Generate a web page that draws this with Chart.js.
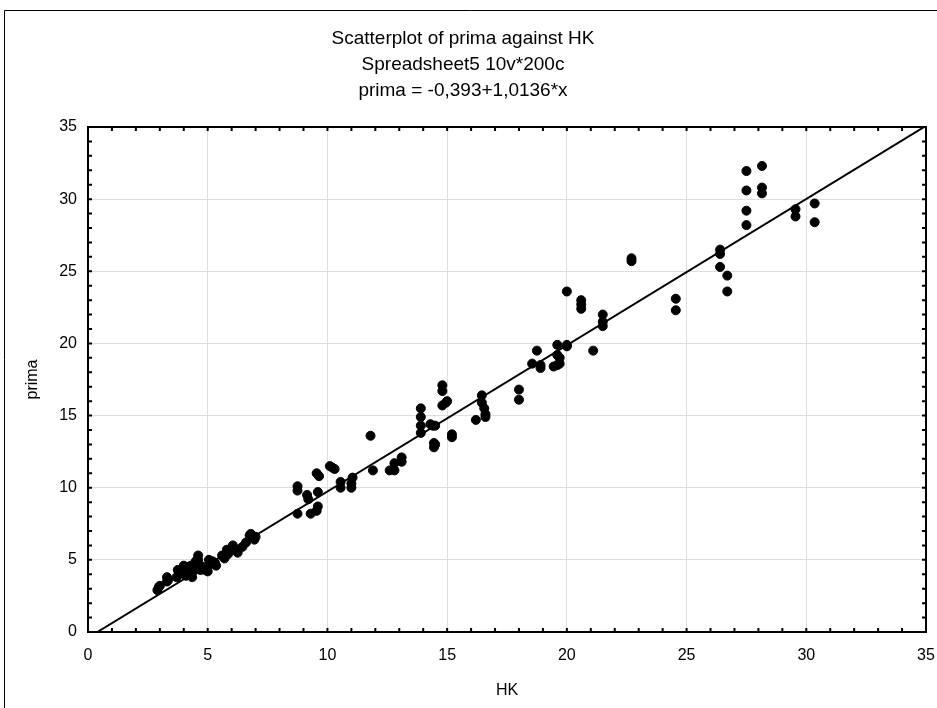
<!DOCTYPE html>
<html>
<head>
<meta charset="utf-8">
<script src="https://cdn.jsdelivr.net/npm/chart.js@4"></script>
<style>
  body { margin: 0; background: #fff; }
  #wrap { position: relative; width: 937px; height: 708px; }
</style>
</head>
<body>
<div id="wrap"><canvas id="chart" width="937" height="708"></canvas></div>
<script>
// HK (x) and prima (y)
const hk = [
  2.9, 2.95, 3.0, 3.3, 3.3, 3.35, 3.75, 3.8, 3.7, 4.1, 4.1, 4.2, 4.3, 4.35, 4.4, 4.5, 4.6, 4.6, 4.7, 4.8,
  4.9, 5.0, 5.05, 5.1, 5.35, 5.3, 5.7, 5.8, 5.85, 6.05, 6.25, 6.1, 6.45, 6.6, 6.75, 6.8, 6.95, 7.0, 4.0, 4.5,
  3.9, 4.7, 5.2, 5.6,
  8.75, 8.75, 8.75, 9.15, 9.2, 9.3, 9.55, 9.65, 9.6, 9.6, 9.55, 10.1, 10.3, 10.2, 10.55, 10.55, 11.0, 11.05, 11.0,
  11.8, 11.9, 12.6, 12.8, 12.8, 13.1, 13.1,
  13.9, 13.9, 13.9, 13.9, 14.4, 14.3, 14.5, 14.45, 14.45, 14.5, 14.8, 14.8, 14.95, 14.8, 15.0, 15.2, 15.2,
  16.45, 16.45, 16.55, 16.2, 16.6, 16.6,
  18.0, 18.0, 18.55, 18.75, 18.9, 18.9, 19.45, 19.6, 19.7, 19.6, 19.6, 20.0, 20.0, 19.7, 21.1, 20.0, 20.6, 20.6,
  20.6, 21.5, 21.5, 21.5, 22.7, 22.7,
  24.55, 24.55, 26.4, 26.4, 26.4, 26.7, 26.7, 27.5, 27.5, 27.5, 27.5, 28.15, 28.15, 28.15, 29.55, 29.55, 30.35, 30.35
];
const prima = [
  2.9, 3.1, 3.2, 3.5, 3.8, 3.6, 4.3, 4.0, 3.8, 3.9, 4.1, 4.5, 4.6, 3.8, 4.2, 4.4, 5.0, 5.3, 4.6, 4.5,
  4.3, 4.2, 5.0, 4.7, 4.6, 4.8, 5.1, 5.7, 5.4, 6.0, 5.5, 5.8, 5.9, 6.2, 6.7, 6.8, 6.4, 6.6, 4.6, 4.9,
  4.2, 4.3, 4.9, 5.3,
  10.1, 9.8, 8.2, 9.5, 9.2, 8.2, 11.0, 10.8, 9.7, 8.7, 8.4, 11.5, 11.3, 11.4, 10.4, 10.0, 10.0, 10.7, 10.3,
  13.6, 11.2, 11.2, 11.2, 11.7, 12.1, 11.8,
  15.5, 14.9, 14.3, 13.8, 14.3, 14.4, 14.3, 13.1, 12.8, 13.0, 17.1, 16.7, 15.9, 15.7, 16.0, 13.5, 13.7,
  16.4, 15.9, 15.5, 14.7, 14.9, 15.1,
  16.8, 16.1, 18.6, 19.5, 18.3, 18.5, 18.4, 18.5, 18.6, 19.2, 19.9, 19.8, 19.9, 19.0, 19.5, 23.6, 23.0, 22.7,
  22.4, 22.0, 21.5, 21.2, 25.9, 25.7,
  23.1, 22.3, 26.5, 26.2, 25.3, 24.7, 23.6, 31.95, 30.6, 29.2, 28.2, 32.3, 30.8, 30.4, 29.3, 28.8, 29.7, 28.4
];

// fitted line prima = -0,393 + 1,0136*x, end points
const fitX = [0.39, 35];
const fitY = [0, 35.08];

const titleLines = ['Scatterplot of prima against HK', 'Spreadsheet5 10v*200c', 'prima = -0,393+1,0136*x'];
const axisMin = 0, axisMax = 35, majorStep = 5;

const FONT = "'Liberation Sans', Arial, sans-serif";

const frame = {
  id: 'frame',
  afterDraw(chart) {
    const { ctx, chartArea: a, scales: { x, y } } = chart;
    ctx.save();
    ctx.strokeStyle = '#000';
    // outer frame (only top and left visible)
    ctx.lineWidth = 1;
    ctx.beginPath();
    ctx.moveTo(4.5, 708); ctx.lineTo(4.5, 10.5); ctx.lineTo(937, 10.5);
    ctx.stroke();
    // plot box
    ctx.lineWidth = 2;
    ctx.strokeRect(a.left, a.top, a.right - a.left, a.bottom - a.top);
    // inward minor ticks every unit on all four sides
    ctx.beginPath();
    for (let v = axisMin; v <= axisMax; v++) {
      const px = x.getPixelForValue(v);
      ctx.moveTo(px, a.bottom); ctx.lineTo(px, a.bottom - 4);
      ctx.moveTo(px, a.top); ctx.lineTo(px, a.top + 4);
      const py = y.getPixelForValue(v);
      ctx.moveTo(a.left, py); ctx.lineTo(a.left + 4, py);
      ctx.moveTo(a.right, py); ctx.lineTo(a.right - 4, py);
    }
    ctx.stroke();
    ctx.restore();
  }
};

new Chart(document.getElementById('chart'), {
  type: 'scatter',
  data: {
    datasets: [
      {
        label: 'prima',
        data: hk.map((v, i) => ({ x: v, y: prima[i] })),
        backgroundColor: '#000',
        borderColor: '#000',
        pointRadius: 4.5,
        pointHoverRadius: 4.5
      },
      {
        label: 'fit',
        type: 'line',
        data: fitX.map((v, i) => ({ x: v, y: fitY[i] })),
        borderColor: '#000',
        borderWidth: 2,
        pointRadius: 0,
        fill: false
      }
    ]
  },
  options: {
    responsive: false,
    animation: false,
    layout: { padding: { right: 11 } },
    plugins: {
      legend: { display: false },
      tooltip: { enabled: false },
      title: {
        display: true,
        text: titleLines,
        color: '#000',
        font: { family: FONT, size: 19, weight: 'normal', lineHeight: 26 / 19 },
        padding: { top: 26, bottom: 23 }
      }
    },
    scales: {
      x: {
        type: 'linear',
        min: axisMin,
        max: axisMax,
        afterFit(scale) {
          scale.height = 76;
          scale.paddingRight = 0;
          scale.paddingLeft = 0;
        },
        ticks: { stepSize: majorStep, color: '#000', padding: 14, font: { family: FONT, size: 16 } },
        grid: { color: '#dedede', drawTicks: false },
        border: { display: false },
        title: { display: true, text: 'HK', color: '#000', font: { family: FONT, size: 16 }, padding: { bottom: 8 } }
      },
      y: {
        type: 'linear',
        min: axisMin,
        max: axisMax,
        afterFit(scale) { scale.width = 88; },
        ticks: { stepSize: majorStep, color: '#000', padding: 11, font: { family: FONT, size: 16 } },
        grid: { color: '#dedede', drawTicks: false },
        border: { display: false },
        title: { display: true, text: 'prima', color: '#000', font: { family: FONT, size: 16 }, padding: { top: 23 } }
      }
    }
  },
  plugins: [frame]
});
</script>
</body>
</html>
